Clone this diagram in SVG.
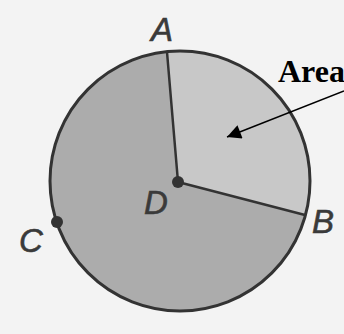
<svg xmlns="http://www.w3.org/2000/svg" width="344" height="334" viewBox="0 0 344 334">
<style>
.lbl{font-family:"Liberation Sans",Arial,sans-serif;font-style:italic;font-size:33px;fill:#3a3a3a;stroke:#3a3a3a;stroke-width:0.6}
.edge{stroke:#333;stroke-width:2.5;fill:none;stroke-linecap:round}
</style>
<defs>
<marker id="ah" viewBox="0 0 10 10" refX="10" refY="5" markerWidth="16" markerHeight="14" markerUnits="userSpaceOnUse" orient="auto">
<path d="M0,0 L10,5 L0,10 Z" fill="#000"/>
</marker>
</defs>
<rect width="344" height="334" fill="#f3f3f3"/>
<g id="circle">
<circle cx="180" cy="181" r="130" fill="#acacac"/>
<path d="M178,182 L167,52 A130,130 0 0,1 305,215 Z" fill="#c8c8c8"/>
<circle cx="180" cy="181" r="130" fill="none" stroke="#333" stroke-width="3"/>
<line class="edge" x1="178" y1="182" x2="167" y2="52"/>
<line class="edge" x1="178" y1="182" x2="305" y2="215"/>
</g>
<g id="D"><circle cx="178" cy="182" r="6" fill="#333"/><text class="lbl" x="144" y="214">D</text></g>
<g id="A"><text class="lbl" x="151" y="41">A</text></g>
<g id="B"><text class="lbl" x="312" y="233">B</text></g>
<g id="C"><circle cx="57" cy="222" r="6" fill="#333"/><text class="lbl" x="19" y="252">C</text></g>
<g id="Area"><text x="278" y="82" font-family="'Liberation Serif','Times New Roman',serif" font-weight="bold" font-size="32" fill="#000">Area</text></g>
<g id="connectors">
<line x1="344" y1="91" x2="227" y2="137" stroke="#000" stroke-width="1.5" marker-end="url(#ah)"/>
</g>
</svg>
